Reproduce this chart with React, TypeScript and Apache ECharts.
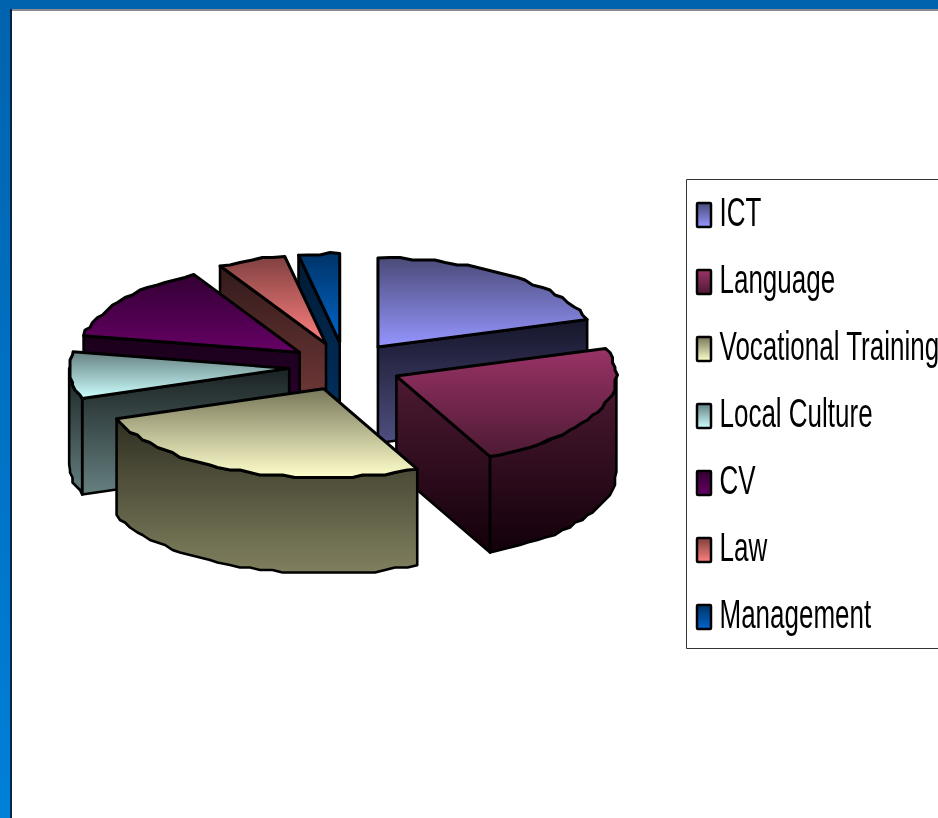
import React, { useEffect, useRef } from "react";
import * as echarts from "echarts";

const categories = ["ICT", "Language", "Vocational Training", "Local Culture", "CV", "Law", "Management"];
const shares = [20, 23, 26.5, 8.5, 14, 5, 3];

const topColors = [
  ["#4a4a78", "#9696ff"],
  ["#993366", "#4d1a33"],
  ["#77775a", "#ffffcc"],
  ["#668080", "#ccffff"],
  ["#330033", "#660066"],
  ["#804040", "#ff8080"],
  ["#003366", "#0066cc"],
];
const wallColors = [
  ["#15152a", "#4f4f80"],
  ["#4d1a33", "#12000a"],
  ["#2f2f22", "#80805f"],
  ["#1a2222", "#668080"],
  ["#1a001a", "#33003a"],
  ["#331a1a", "#804040"],
  ["#001a33", "#003366"],
];

const W = 938;
const H = 818;
const CX = 345;
const CY = 366.5;
const RX = 220;
const RY = 89;
const DEPTH = 96;
const PULL_X = 56;
const PULL_Y = 24;
const GRID = 2.5;

const total = shares.reduce((a, b) => a + b, 0);
const slices = (() => {
  let acc = 0;
  return shares.map((v, i) => {
    const a0 = (acc / total) * 360;
    acc += v;
    const a1 = (acc / total) * 360;
    const mid = (((a0 + a1) / 2) * Math.PI) / 180;
    return {
      i,
      a0,
      a1,
      ax: CX + PULL_X * Math.sin(mid),
      ay: CY - PULL_Y * Math.cos(mid),
      depthKey: Math.cos(mid),
    };
  });
})();
const paintOrder = [...slices].sort((p, q) => q.depthKey - p.depthKey);

const grad = (c: string[]) =>
  new echarts.graphic.LinearGradient(0, 0, 0, 1, [
    { offset: 0, color: c[0] },
    { offset: 1, color: c[1] },
  ]);

function rim(s: any, a: number, dy = 0): number[] {
  const r = (a * Math.PI) / 180;
  return [s.ax + RX * Math.sin(r), s.ay - RY * Math.cos(r) + dy];
}

function arc(s: any, from: number, to: number, dy = 0): number[][] {
  const out: number[][] = [];
  const n = Math.max(2, Math.ceil((to - from) / 3));
  for (let k = 0; k <= n; k++) {
    const p = rim(s, from + ((to - from) * k) / n, dy);
    if (k === 0 || k === n) out.push(p);
    else out.push([Math.round(p[0] / GRID) * GRID, Math.round(p[1] / GRID) * GRID]);
  }
  return out;
}

function renderItem(params: any) {
  const s = paintOrder[params.dataIndex];
  const apex = [s.ax, s.ay];
  const apexLow = [s.ax, s.ay + DEPTH];
  const children: any[] = [];
  const wall = (points: number[][]) =>
    children.push({
      type: "polygon",
      shape: { points },
      style: { fill: grad(wallColors[s.i]), stroke: "#000", lineWidth: 2.6, lineJoin: "round" },
    });
  if (s.a0 > 180) {
    const e = rim(s, s.a0);
    wall([apex, e, [e[0], e[1] + DEPTH], apexLow]);
  }
  if (s.a1 < 180) {
    const e = rim(s, s.a1);
    wall([apex, e, [e[0], e[1] + DEPTH], apexLow]);
  }
  const f0 = Math.max(s.a0, 90);
  const f1 = Math.min(s.a1, 270);
  if (f1 > f0) {
    wall([...arc(s, f0, f1), ...arc(s, f0, f1, DEPTH).reverse()]);
  }
  children.push({
    type: "polygon",
    shape: { points: [apex, ...arc(s, s.a0, s.a1)] },
    style: { fill: grad(topColors[s.i]), stroke: "#000", lineWidth: 3, lineJoin: "round" },
  });
  return { type: "group", children };
}

const LEGEND_TOP = 203;
const LEGEND_STEP = 67;

function legendGraphics(): any[] {
  const out: any[] = [
    {
      type: "rect",
      shape: { x: 686.5, y: 179.5, width: 300, height: 469 },
      style: { fill: "#fff", stroke: "#333", lineWidth: 1 },
    },
  ];
  categories.forEach((name, i) => {
    const y = LEGEND_TOP + i * LEGEND_STEP;
    out.push({
      type: "rect",
      shape: { x: 697, y, width: 14, height: 24, r: 1 },
      style: { fill: grad(topColors[i]), stroke: "#000", lineWidth: 2.5 },
    });
    out.push({
      type: "text",
      x: 719.5,
      y: y - 11,
      scaleX: 0.65,
      style: {
        text: name,
        font: '40px "Liberation Sans"',
        fill: "#000",
      },
    });
  });
  return out;
}

export default function App() {
  const ref = useRef<HTMLDivElement>(null);
  useEffect(() => {
    document.body.style.margin = "0";
    const chart = echarts.init(ref.current!, null, { renderer: "svg" });
    chart.setOption({
      animation: false,
      graphic: [
        {
          type: "group",
          silent: true,
          children: [
            {
              type: "rect",
              shape: { x: 0, y: 0, width: W, height: H },
              style: {
                fill: new echarts.graphic.LinearGradient(0, 0, 0, 1, [
                  { offset: 0, color: "#0063ae" },
                  { offset: 1, color: "#0080d8" },
                ]),
              },
            },
            { type: "rect", shape: { x: 10, y: 9, width: W, height: H }, style: { fill: "#8a8a90" } },
            { type: "rect", shape: { x: 10, y: 9, width: 2, height: H }, style: { fill: "#00234a" } },
            { type: "rect", shape: { x: 12, y: 11, width: W, height: H }, style: { fill: "#fff" } },
            ...legendGraphics(),
          ],
        },
      ],
      series: [
        {
          type: "custom",
          coordinateSystem: "none",
          silent: true,
          renderItem,
          data: paintOrder.map((s) => ({ name: categories[s.i], value: [shares[s.i]] })),
        },
      ],
    });
    return () => chart.dispose();
  }, []);
  return <div ref={ref} style={{ position: "fixed", left: 0, top: 0, width: W, height: H }} />;
}
